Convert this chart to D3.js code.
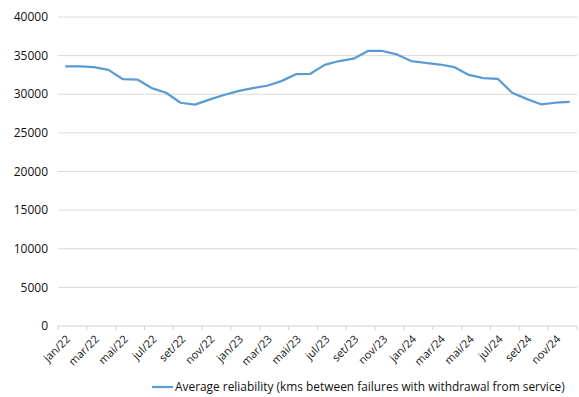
<!DOCTYPE html>
<html>
<head>
<meta charset="utf-8">
<script src="https://cdn.jsdelivr.net/npm/d3@7"></script>
<style>
  html, body { margin: 0; padding: 0; background: #fff; }
  svg { display: block; font-family: "Open Sans", "DejaVu Sans", sans-serif; }
</style>
</head>
<body>
<svg id="chart" width="579" height="397"></svg>
<script>
// Monthly categories Jan 2022 – Dec 2024 (Portuguese month abbreviations)
const months = ["jan", "fev", "mar", "abr", "mai", "jun", "jul", "ago", "set", "out", "nov", "dez"];
const years = ["22", "23", "24"];
const categories = years.flatMap(y => months.map(m => `${m}/${y}`));

// Average reliability (km between failures with withdrawal from service)
const reliability = [
  33600, 33600, 33500, 33150, 31950, 31900, 30800, 30200, 28900, 28650, 29300, 29900,
  30400, 30800, 31100, 31700, 32600, 32650, 33800, 34300, 34600, 35600, 35600, 35150,
  34300, 34050, 33850, 33500, 32500, 32100, 32000, 30200, 29400, 28700, 28900, 29000
];

const yTicks = [0, 5000, 10000, 15000, 20000, 25000, 30000, 35000, 40000];
const seriesName = "Average reliability (kms between failures with withdrawal from service)";

const svg = d3.select("#chart");
const margin = { left: 58, right: 2, top: 17, bottom: 71 };
const W = 579, H = 397;

const x = d3.scaleBand()
  .domain(categories)
  .range([margin.left, W - margin.right])
  .paddingInner(0).paddingOuter(0);

const y = d3.scaleLinear()
  .domain([0, 40000])
  .range([H - margin.bottom, margin.top]);

// horizontal gridlines
svg.append("g")
  .selectAll("line")
  .data(yTicks.filter(d => d > 0))
  .join("line")
  .attr("x1", margin.left).attr("x2", W - margin.right)
  .attr("y1", d => y(d)).attr("y2", d => y(d))
  .attr("stroke", "#d9d9d9").attr("stroke-width", 1);

// y axis labels
svg.append("g")
  .selectAll("text")
  .data(yTicks)
  .join("text")
  .attr("x", 48)
  .attr("y", d => y(d))
  .attr("dy", "0.35em")
  .attr("text-anchor", "end")
  .attr("font-size", 12)
  .attr("fill", "#111")
  .text(d => d);

// category axis along zero
const base = y(0);
svg.append("line")
  .attr("x1", margin.left).attr("x2", W - margin.right)
  .attr("y1", base).attr("y2", base)
  .attr("stroke", "#d0d0d0").attr("stroke-width", 1);

// tick marks at every second category boundary (plus the right edge)
const tickIdx = d3.range(0, categories.length + 1, 2);
svg.append("g")
  .selectAll("line")
  .data(tickIdx)
  .join("line")
  .attr("x1", i => i < categories.length ? x(categories[i]) : x.range()[1])
  .attr("x2", i => i < categories.length ? x(categories[i]) : x.range()[1])
  .attr("y1", base).attr("y2", base + 4)
  .attr("stroke", "#d0d0d0").attr("stroke-width", 1);

// rotated month labels
svg.append("g")
  .selectAll("text")
  .data(categories.filter((d, i) => i % 2 === 0))
  .join("text")
  .attr("transform", d => `translate(${x(d) + x.bandwidth() / 2 + 3},${base + 11}) rotate(-45)`)
  .attr("text-anchor", "end")
  .attr("dy", "0.35em")
  .attr("font-size", 11)
  .attr("fill", "#111")
  .text(d => d);

// the series line
const line = d3.line()
  .x((d, i) => x(categories[i]) + x.bandwidth() / 2)
  .y(d => y(d));

svg.append("path")
  .datum(reliability)
  .attr("d", line)
  .attr("fill", "none")
  .attr("stroke", "#5b9bd5")
  .attr("stroke-width", 2.25)
  .attr("stroke-linejoin", "round");

// legend
const legend = svg.append("g").attr("transform", "translate(152,387)");
legend.append("line")
  .attr("x1", 0).attr("x2", 21).attr("y1", 0).attr("y2", 0)
  .attr("stroke", "#5b9bd5").attr("stroke-width", 2.25);
legend.append("text")
  .attr("x", 23).attr("y", 0).attr("dy", "0.35em")
  .attr("font-size", 11.9)
  .attr("fill", "#111")
  .text(seriesName);
</script>
</body>
</html>
